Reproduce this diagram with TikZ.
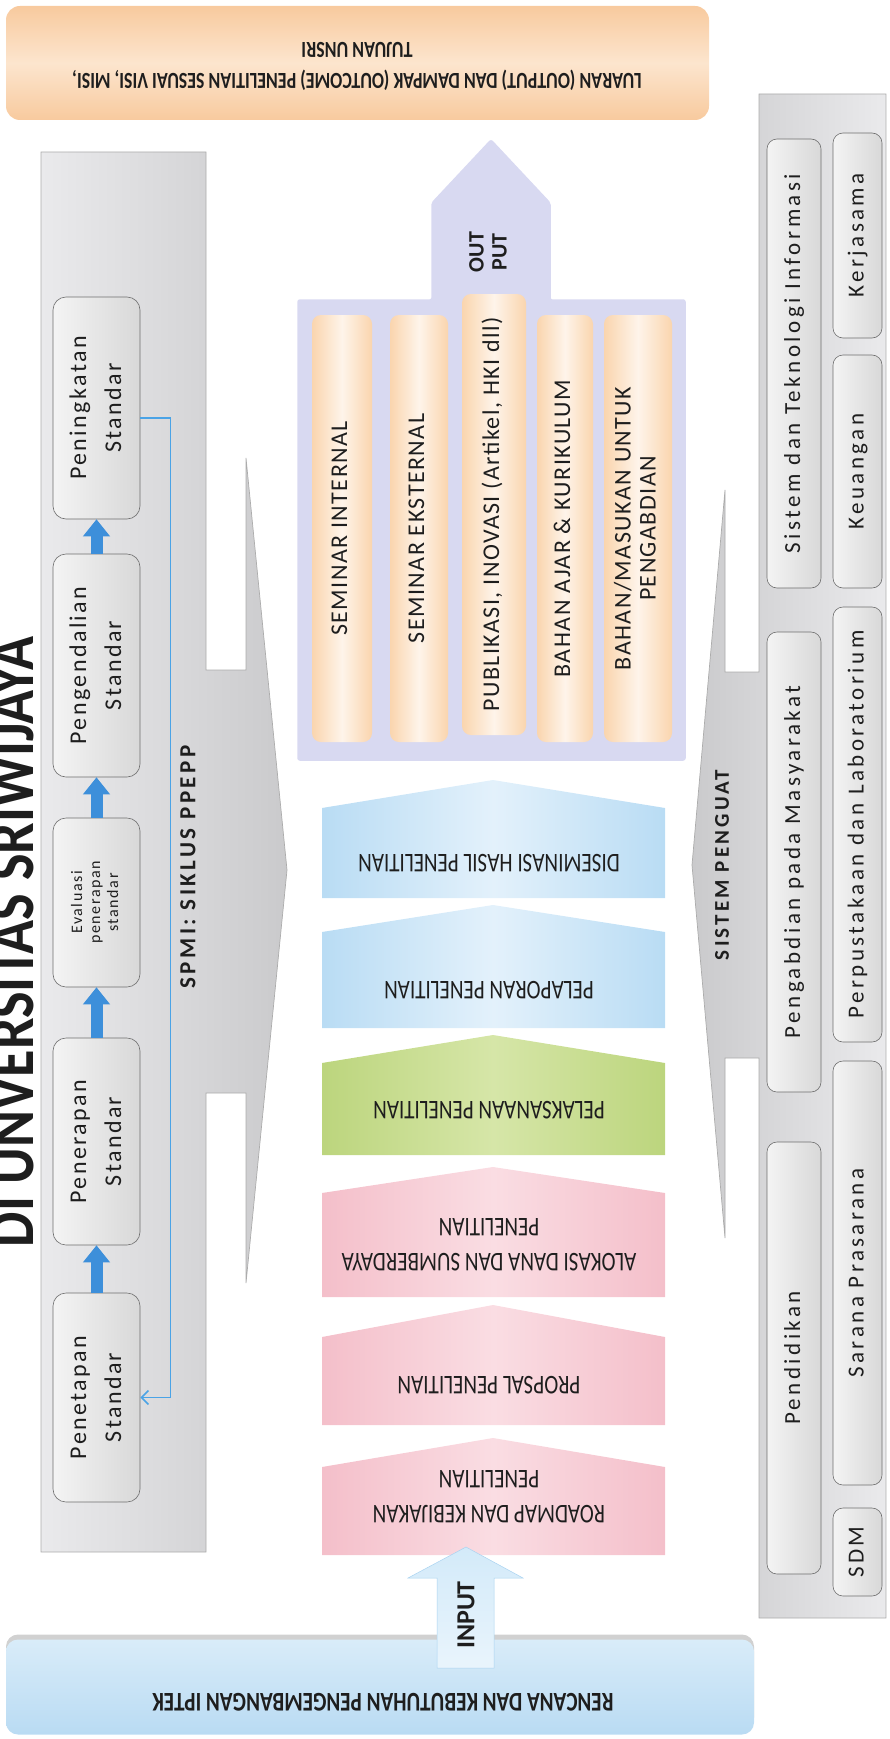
\documentclass[tikz,border=0pt]{standalone}
\usepackage{fontspec}
\usepackage{graphicx}
\setmainfont{Carlito}
\newfontfamily\narrowfont[FakeStretch=0.78]{Carlito}
\newfontfamily\titlefont[FakeStretch=0.85]{Carlito}
\newfontfamily\spacedfont[LetterSpace=15]{Carlito}
\newfontfamily\boxfont[LetterSpace=10]{Carlito}
\newfontfamily\barfont[LetterSpace=6]{Carlito}
\usetikzlibrary{arrows.meta,shadows}

\definecolor{luaranedge}{HTML}{F8CA9E}
\definecolor{luaranmid}{HTML}{FCE5CE}
\definecolor{panellight}{HTML}{EAEAEC}
\definecolor{paneldark}{HTML}{CACACC}
\definecolor{boxlight}{HTML}{F4F4F4}
\definecolor{boxgray}{HTML}{D8D8D8}
\definecolor{boxline}{HTML}{6E6E6E}
\definecolor{stepblue}{HTML}{3D8FDA}
\definecolor{loopblue}{HTML}{4AA3E6}
\definecolor{lavender}{HTML}{D8D9F1}
\definecolor{baredge}{HTML}{FAD5AE}
\definecolor{barmid}{HTML}{FEF4EA}
\definecolor{bluedge}{HTML}{B9DCF4}
\definecolor{bluemid}{HTML}{E3F1FB}
\definecolor{greenedge}{HTML}{BCD57D}
\definecolor{greenmid}{HTML}{D6E6A8}
\definecolor{pinkedge}{HTML}{F4BFCA}
\definecolor{pinkmid}{HTML}{FADDE3}
\definecolor{rencanatop}{HTML}{D9ECF9}
\definecolor{rencanabot}{HTML}{B9DBF3}
\definecolor{inputblue}{HTML}{D3EAF9}
\definecolor{inputedge}{HTML}{A9D3F1}
\definecolor{textdark}{HTML}{1E1E1E}

\newcommand{\vlab}[1]{\rotatebox{90}{\begin{tabular}{@{}c@{}}#1\end{tabular}}}

\tikzset{
  luaranbox/.style={rounded corners=14pt, top color=luaranedge, bottom color=luaranedge, middle color=luaranmid},
  fliptext/.style={rotate=180, align=center, inner sep=0pt, text=textdark},
  spmipanel/.style={draw=gray!65, line width=0.7pt, left color=panellight, right color=paneldark},
  penguatpanel/.style={draw=gray!65, line width=0.7pt, left color=paneldark, right color=panellight},
  stdbox/.style={draw=boxline, line width=0.6pt, rounded corners=13pt, left color=boxlight, right color=boxgray,
    inner sep=0pt, text=textdark, font=\boxfont\fontsize{24}{35}\selectfont},
  sidebox/.style={stdbox, rounded corners=10pt, font=\spacedfont\fontsize{23}{30}\selectfont},
  steparrow/.style={draw=stepblue, line width=12pt, -{Triangle[length=17pt,width=26pt]}},
  loopline/.style={draw=loopblue, line width=1.6pt, -{Straight Barb[length=7pt,width=14pt]}},
  panellabel/.style={rotate=90, inner sep=0pt, text=textdark, font=\spacedfont\bfseries\fontsize{23}{28}\selectfont},
  outshape/.style={fill=lavender, draw=lavender, line width=1.5pt, rounded corners=2pt},
  outbar/.style={rounded corners=9pt, left color=baredge, right color=baredge, middle color=barmid,
    inner sep=0pt, text=textdark, font=\barfont\fontsize{24}{25}\selectfont},
  pentblue/.style={left color=bluedge, right color=bluedge, middle color=bluemid},
  pentgreen/.style={left color=greenedge, right color=greenedge, middle color=greenmid},
  pentpink/.style={left color=pinkedge, right color=pinkedge, middle color=pinkmid},
  penttext/.style={fliptext, font=\narrowfont\fontsize{27}{35}\selectfont},
  rencanabox/.style={rounded corners=12pt, top color=rencanatop, bottom color=rencanabot,
    drop shadow={shadow xshift=0pt, shadow yshift=5pt, fill=gray!60, opacity=0.6}},
  inputarrow/.style={top color=inputblue, bottom color=inputblue!50!white, draw=inputedge, line width=0.5pt}
}

\begin{document}
\begin{tikzpicture}[x=1pt,y=-1pt]
  \useasboundingbox (0,0) rectangle (889,1739);

  % luaran
  \node[luaranbox, minimum width=703pt, minimum height=114pt] (luaran) at (357.5,63) {};
  \node[fliptext, font=\narrowfont\bfseries\fontsize{23}{31}\selectfont] (luarantxt) at (357,66)
    {LUARAN (OUTPUT) DAN DAMPAK (OUTCOME) PENELITIAN SESUAI VISI, MISI,\\TUJUAN UNSRI};

  % SPMI
  \draw[spmipanel] (41,152) -- (206,152) -- (206,670) -- (246,670) -- (246,458) -- (287,870)
    -- (246,1283) -- (246,1093) -- (206,1093) -- (206,1552) -- (41,1552) -- cycle;
  \node[rotate=90, anchor=base, inner sep=0pt, text=textdark, font=\titlefont\bfseries\fontsize{66}{70}\selectfont]
    (judul) at (33,942) {DI UNVERSITAS SRIWIJAYA};
  \node[stdbox, minimum width=87pt, minimum height=222pt] (tingkat) at (96.5,408) {\vlab{Peningkatan\\Standar}};
  \node[stdbox, minimum width=87pt, minimum height=223pt] (kendali) at (96.5,665.5) {\vlab{Pengendalian\\Standar}};
  \node[stdbox, minimum width=87pt, minimum height=169pt, font=\boxfont\fontsize{16}{18}\selectfont]
    (evaluasi) at (96.5,902.5) {\vlab{Evaluasi\\penerapan\\standar}};
  \node[stdbox, minimum width=87pt, minimum height=207pt] (terap) at (96.5,1141.5) {\vlab{Penerapan\\Standar}};
  \node[stdbox, minimum width=87pt, minimum height=209pt] (tetap) at (96.5,1397.5) {\vlab{Penetapan\\Standar}};
  \draw[steparrow] (tetap.north) -- (terap.south);
  \draw[steparrow] (terap.north) -- (evaluasi.south);
  \draw[steparrow] (evaluasi.north) -- (kendali.south);
  \draw[steparrow] (kendali.north) -- (tingkat.south);
  \draw[loopline] ([yshift=-10pt]tingkat.east) -- ++(30,0) |- (tetap.east);
  \node[panellabel] (spmi) at (188,867) {SPMI: SIKLUS PPEPP};

  % sistem penguat
  \draw[penguatpanel] (886,94) -- (759,94) -- (759,672) -- (725,672) -- (725,490) -- (692,865)
    -- (725,1238) -- (725,1058) -- (759,1058) -- (759,1618) -- (886,1618) -- cycle;
  \node[panellabel, font=\spacedfont\bfseries\fontsize{21}{26}\selectfont] (penguat) at (722,865) {SISTEM PENGUAT};
  \node[sidebox, minimum width=54pt, minimum height=449pt] (sisfo) at (794,363.5) {\vlab{Sistem dan Teknologi Informasi}};
  \node[sidebox, minimum width=54pt, minimum height=460pt] (abdimas) at (794,862) {\vlab{Pengabdian pada Masyarakat}};
  \node[sidebox, minimum width=54pt, minimum height=432pt] (didik) at (794,1358) {\vlab{Pendidikan}};
  \node[sidebox, minimum width=49pt, minimum height=205pt] (kerjasama) at (857.5,235.5) {\vlab{Kerjasama}};
  \node[sidebox, minimum width=49pt, minimum height=233pt] (uang) at (857.5,471.5) {\vlab{Keuangan}};
  \node[sidebox, minimum width=49pt, minimum height=435pt] (pustaka) at (857.5,824.5) {\vlab{Perpustakaan dan Laboratorium}};
  \node[sidebox, minimum width=49pt, minimum height=424pt] (sarpras) at (857.5,1273) {\vlab{Sarana Prasarana}};
  \node[sidebox, minimum width=49pt, minimum height=88pt] (sdm) at (857.5,1552) {\vlab{SDM}};

  % output
  \draw[outshape] (298,300) -- (432,300) -- (432,203) -- (491,140) -- (550,203) -- (550,300)
    -- (685,300) -- (685,760) -- (298,760) -- cycle;
  \node[rotate=90, align=center, inner sep=0pt, text=textdark, font=\bfseries\fontsize{22}{23}\selectfont]
    (output) at (488,252) {OUT\\PUT};
  \node[outbar, minimum width=60pt, minimum height=427pt] (semint) at (342,528.5) {\vlab{SEMINAR INTERNAL}};
  \node[outbar, minimum width=58pt, minimum height=427pt] (semeks) at (419,528.5) {\vlab{SEMINAR EKSTERNAL}};
  \node[outbar, minimum width=64pt, minimum height=441pt] (publikasi) at (494,514.5) {\vlab{PUBLIKASI, INOVASI (Artikel, HKI dll)}};
  \node[outbar, minimum width=56pt, minimum height=427pt] (ajar) at (565,528.5) {\vlab{BAHAN AJAR \& KURIKULUM}};
  \node[outbar, minimum width=68pt, minimum height=427pt] (masukan) at (638,528.5) {\vlab{BAHAN/MASUKAN UNTUK\\PENGABDIAN}};

  % tahapan penelitian
  \path[pentblue] (322,808) -- (493,780) -- (665,808) -- (665,898) -- (322,898) -- cycle;
  \path[pentblue] (322,932) -- (493,905) -- (665,932) -- (665,1028) -- (322,1028) -- cycle;
  \path[pentgreen] (322,1063) -- (493,1035) -- (665,1063) -- (665,1155) -- (322,1155) -- cycle;
  \path[pentpink] (322,1193) -- (493,1167) -- (665,1193) -- (665,1297) -- (322,1297) -- cycle;
  \path[pentpink] (322,1337) -- (493,1305) -- (665,1337) -- (665,1425) -- (322,1425) -- cycle;
  \path[pentpink] (322,1467) -- (493,1438) -- (665,1467) -- (665,1555) -- (322,1555) -- cycle;
  \node[penttext] (sebar) at (489,863) {DISEMINASI HASIL PENELITIAN};
  \node[penttext] (lapor) at (489,990) {PELAPORAN PENELITIAN};
  \node[penttext] (laksana) at (489,1110) {PELAKSANAAN PENELITIAN};
  \node[penttext] (alokasi) at (489,1245) {ALOKASI DANA DAN SUMBERDAYA\\PENELITIAN};
  \node[penttext] (proposal) at (489,1385) {PROPSAL PENELITIAN};
  \node[penttext] (roadmap) at (489,1497) {ROADMAP DAN KEBIJAKAN\\PENELITIAN};

  % input
  \node[rencanabox, minimum width=748pt, minimum height=95pt] (rencana) at (380,1687) {};
  \node[fliptext, font=\narrowfont\bfseries\fontsize{27}{30}\selectfont] (rencanatxt) at (383,1702)
    {RENCANA DAN KEBUTUHAN PENGEMBANGAN IPTEK};
  \path[inputarrow] (437,1668) -- (437,1578) -- (408,1578) -- (466,1547) -- (523,1578) -- (494,1578)
    -- (494,1668) -- cycle;
  \node[rotate=90, inner sep=0pt, text=textdark, font=\bfseries\fontsize{26}{30}\selectfont] (input) at (466,1615) {INPUT};
\end{tikzpicture}
\end{document}
